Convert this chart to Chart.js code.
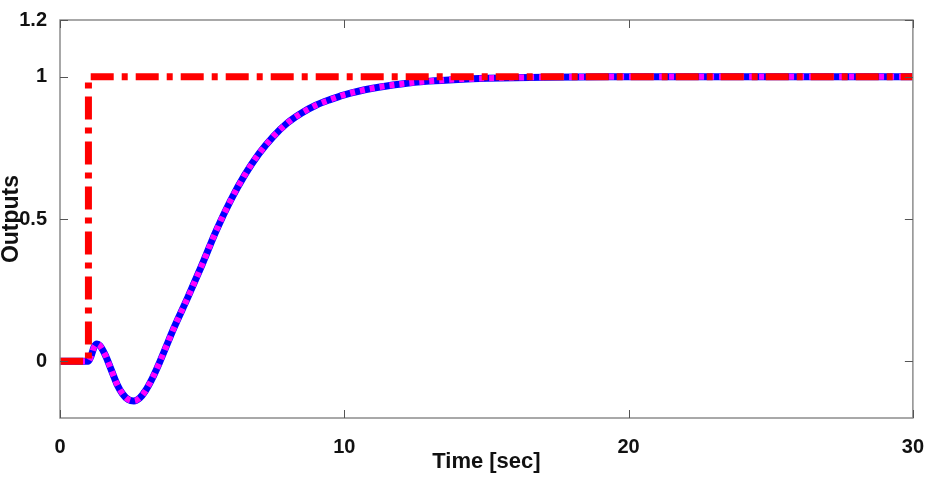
<!DOCTYPE html>
<html>
<head>
<meta charset="utf-8">
<script src="https://cdn.jsdelivr.net/npm/chart.js@4"></script>
<style>
  html, body { margin: 0; padding: 0; background: #fff; }
  #wrap { width: 933px; height: 478px; }
</style>
</head>
<body>
<div id="wrap"><canvas id="c" width="933" height="478"></canvas></div>
<script>
// reference step input
const stepT = [0, 1, 1, 30];
const stepY = [0, 0, 1, 1];

// system response
const respT = [0, 0.5, 1.0, 1.1, 1.2, 1.3, 1.4, 1.6, 1.8, 2.0, 2.2, 2.4, 2.6, 2.8, 3.0, 3.25, 3.5, 3.75, 4.0, 4.5, 5.0, 5.5, 6.0, 6.5, 7.0, 7.5, 8.0, 8.5, 9.0, 9.5, 10, 11, 12, 13, 14, 15, 17, 20, 25, 30];
const respY = [0, 0, 0, 0.02, 0.05, 0.06, 0.055, 0.02, -0.03, -0.08, -0.115, -0.135, -0.14, -0.13, -0.105, -0.06, -0.005, 0.055, 0.115, 0.225, 0.34, 0.46, 0.565, 0.655, 0.73, 0.79, 0.838, 0.873, 0.9, 0.92, 0.937, 0.96, 0.975, 0.985, 0.991, 0.995, 0.999, 1, 1, 1];

const xTicks = [0, 10, 20, 30];
const yTicks = [0, 0.5, 1, 1.2];

const toPts = (xs, ys) => xs.map((x, i) => ({ x: x, y: ys[i] }));

// box + inside ticks, matlab style
const boxPlugin = {
    id: 'box',
    afterDatasetsDraw(chart) {
        const { ctx, chartArea: a, scales } = chart;
        ctx.save();
        ctx.strokeStyle = '#8c8c8c';
        ctx.lineWidth = 1.5;
        ctx.strokeRect(a.left, a.top, a.right - a.left, a.bottom - a.top);
        ctx.strokeStyle = '#555';
        ctx.lineWidth = 1;
        ctx.beginPath();
        xTicks.forEach(v => {
            const px = Math.round(scales.x.getPixelForValue(v)) + 0.5;
            ctx.moveTo(px, a.bottom); ctx.lineTo(px, a.bottom - 8);
            ctx.moveTo(px, a.top); ctx.lineTo(px, a.top + 8);
        });
        yTicks.forEach(v => {
            const py = Math.round(scales.y.getPixelForValue(v)) + 0.5;
            ctx.moveTo(a.left, py); ctx.lineTo(a.left + 8, py);
            ctx.moveTo(a.right, py); ctx.lineTo(a.right - 8, py);
        });
        ctx.stroke();
        ctx.restore();
    }
};

const fam = '"Liberation Sans", Arial, sans-serif';
const tickFont = { family: fam, size: 20, weight: 'bold' };
const fmt = v => String(Math.round(v * 10) / 10);

new Chart(document.getElementById('c'), {
    type: 'line',
    data: {
        datasets: [
            {
                data: toPts(stepT, stepY),
                borderColor: '#ff0000',
                borderWidth: 7,
                borderDash: [23, 8, 6, 8],
                borderCapStyle: 'butt',
                borderJoinStyle: 'round',
                tension: 0,
                pointRadius: 0
            },
            {
                data: toPts(respT, respY),
                borderColor: '#ff00ff',
                borderWidth: 6,
                borderDash: [5, 5],
                borderCapStyle: 'butt',
                cubicInterpolationMode: 'monotone',
                pointRadius: 0
            },
            {
                data: toPts(respT, respY),
                borderColor: '#0000ff',
                borderWidth: 7,
                cubicInterpolationMode: 'monotone',
                pointRadius: 0
            }
        ]
    },
    options: {
        responsive: false,
        animation: false,
        layout: { padding: { top: 20, right: 19, left: 0, bottom: 0 } },
        plugins: { legend: { display: false }, tooltip: { enabled: false } },
        scales: {
            x: {
                type: 'linear',
                min: 0,
                max: 30,
                afterBuildTicks: s => { s.ticks = xTicks.map(v => ({ value: v })); },
                afterFit: s => { s.height = 60; },
                grid: { display: false },
                border: { display: false },
                ticks: { color: '#111', font: tickFont, padding: 9, maxRotation: 0, callback: fmt },
                title: {
                    display: true,
                    text: 'Time [sec]',
                    color: '#111',
                    font: { family: fam, size: 22, weight: 'bold' },
                    padding: { top: 0, bottom: 3 }
                }
            },
            y: {
                type: 'linear',
                min: -0.2,
                max: 1.2,
                afterBuildTicks: s => { s.ticks = yTicks.map(v => ({ value: v })); },
                afterFit: s => { s.width = 60; },
                grid: { display: false },
                border: { display: false },
                ticks: { color: '#111', font: tickFont, padding: 5, callback: fmt },
                title: {
                    display: true,
                    text: 'Outputs',
                    color: '#111',
                    font: { family: fam, size: 23, weight: 'bold', lineHeight: 1.0 },
                    padding: { top: 0, bottom: 0 }
                }
            }
        }
    },
    plugins: [boxPlugin]
});
</script>
</body>
</html>
